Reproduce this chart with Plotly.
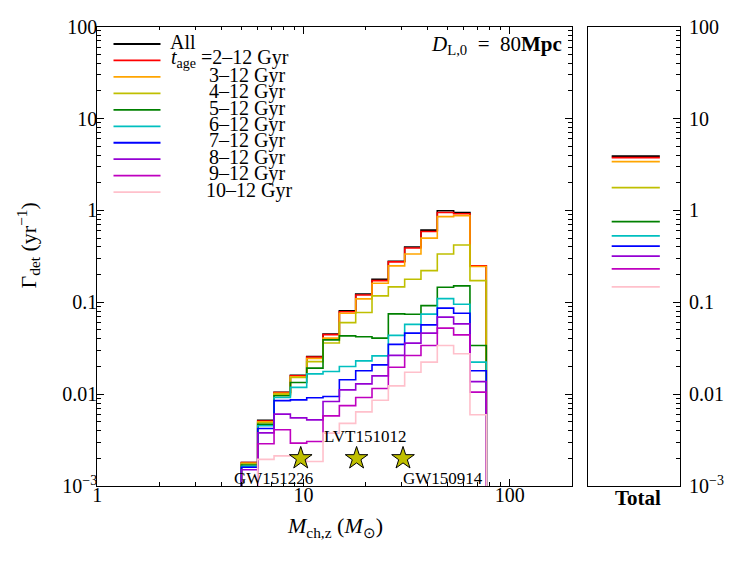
import math
import plotly.graph_objects as go

# ---------------- data ----------------
bin_edges = [5.0, 6.0, 7.2, 8.64, 10.37, 12.44, 14.93, 17.92, 21.50,
             25.80, 30.96, 37.15, 44.58, 53.50, 64.20, 77.04]

series_labels = ["All", "2–12 Gyr", "3–12 Gyr", "4–12 Gyr", "5–12 Gyr",
                 "6–12 Gyr", "7–12 Gyr", "8–12 Gyr", "9–12 Gyr", "10–12 Gyr"]

rate_all   = [0.0018, 0.0052, 0.0105, 0.0160, 0.0256, 0.0450, 0.0810, 0.1230,
              0.1780, 0.2800, 0.4000, 0.6100, 0.9900, 0.9500, 0.2500]
rate_2_12  = [0.0018, 0.0051, 0.0104, 0.0158, 0.0254, 0.0445, 0.0790, 0.1200,
              0.1720, 0.2750, 0.3900, 0.5900, 0.9500, 0.9200, 0.2500]
rate_3_12  = [0.00177, 0.0050, 0.0102, 0.0154, 0.0244, 0.0407, 0.0761, 0.1089,
              0.1614, 0.2490, 0.3360, 0.4990, 0.8570, 0.8780, 0.2450]
rate_4_12  = [0.00175, 0.00488, 0.0100, 0.0152, 0.0226, 0.0361, 0.0601, 0.0773,
              0.1175, 0.1470, 0.1780, 0.2210, 0.3360, 0.4210, 0.1720]
rate_5_12  = [0.00169, 0.00469, 0.0096, 0.01337, 0.0192, 0.0390, 0.0431, 0.0421,
              0.0407, 0.0748, 0.0742, 0.0920, 0.1460, 0.1510, 0.0338]
rate_6_12  = [0.00164, 0.00452, 0.00919, 0.01186, 0.01663, 0.01762, 0.01996, 0.02303,
              0.02612, 0.0436, 0.0575, 0.0743, 0.1097, 0.0953, 0.0223]
rate_7_12  = [0.00160, 0.00422, 0.00851, 0.00867, 0.00912, 0.00942, 0.01432, 0.01794,
              0.02084, 0.0348, 0.0461, 0.0568, 0.0863, 0.0761, 0.01794]
rate_8_12  = [0.00150, 0.00379, 0.00606, 0.00552, 0.00525, 0.00832, 0.01114, 0.01294,
              0.0158, 0.0264, 0.0359, 0.0461, 0.0689, 0.0582, 0.0137]
rate_9_12  = [0.0008, 0.00288, 0.00409, 0.00293, 0.00305, 0.0058, 0.0075, 0.0092,
              0.0115, 0.0196, 0.0263, 0.0338, 0.0523, 0.0442, 0.01052]
rate_10_12 = [0.0005, 0.00195, 0.00213, 0.00213, 0.00185, 0.00376, 0.00481, 0.00641,
              0.00857, 0.0123, 0.01734, 0.0223, 0.0338, 0.0275, 0.00596]

series_rates = [rate_all, rate_2_12, rate_3_12, rate_4_12, rate_5_12,
                rate_6_12, rate_7_12, rate_8_12, rate_9_12, rate_10_12]

totals = [3.89, 3.76, 3.40, 1.77, 0.755, 0.528, 0.408, 0.318, 0.231, 0.147]

event_names = ["GW151226", "LVT151012", "GW150914"]
event_mchirp = [9.7, 18.1, 30.4]
event_rate = [0.002, 0.002, 0.002]

y_tickvals = [1e-3, 1e-2, 1e-1, 1, 10, 100]
y_ticktext = ["10<sup>−3</sup>", "0.01", "0.1", "1", "10", "100"]
x_tickvals = [1, 10, 100]
x_ticktext = ["1", "10", "100"]

# ---------------- styles ----------------
colors = ["#000000", "#ff0000", "#ffa500", "#bfbf00", "#008000",
          "#00bfbf", "#0000ff", "#9400d3", "#bf00bf", "#ffc0cb"]
FONT = "Liberation Serif"
W, H = 747, 561
OFF = 8  # page body margin offset
BASE = 1e-7  # histogram baseline (below visible range)


def fx(px):
    return (px - OFF) / W


def fy(py):
    return 1 - (py - OFF) / H


y_minor = [m * 10 ** e for e in range(-3, 2) for m in range(2, 10)]
x_minor = [m * 10 ** e for e in range(0, 2) for m in range(2, 10)] + [200]

fig = go.Figure()

# step histograms
for vals, col, lab in zip(series_rates, colors, series_labels):
    xs = [bin_edges[0]] + bin_edges[:-1] + [bin_edges[-1]]
    ys = [BASE] + vals + [BASE]
    fig.add_trace(go.Scatter(x=xs, y=ys, mode="lines", line_shape="hv",
                             line=dict(color=col, width=1.6), name=lab,
                             showlegend=False, xaxis="x", yaxis="y"))

# detected events
fig.add_trace(go.Scatter(x=event_mchirp, y=event_rate, mode="markers",
                         marker=dict(symbol="star", size=17, color="#bfbf00",
                                     line=dict(color="black", width=1)),
                         showlegend=False, xaxis="x", yaxis="y"))

# totals panel
for tot, col in zip(totals, colors):
    fig.add_trace(go.Scatter(x=[0.255, 0.78], y=[tot, tot], mode="lines",
                             line=dict(color=col, width=1.8),
                             showlegend=False, xaxis="x2", yaxis="y2"))

annotations = []
shapes = []

# event labels
ev_offsets = [(-27, -20), (9, 22), (40, -20)]
for name, mc, rt, (dx, dy) in zip(event_names, event_mchirp, event_rate, ev_offsets):
    annotations.append(dict(x=math.log10(mc), y=math.log10(rt), xref="x", yref="y",
                            text=name, showarrow=False, xshift=dx, yshift=dy,
                            font=dict(family=FONT, size=17, color="black")))

# manual legend
leg_y0, leg_dy = 44.0, 16.46
text_x = [168, 169, 207, 207, 207, 207, 207, 207, 207, 204]
for i, (lab, col) in enumerate(zip(series_labels, colors)):
    ly = leg_y0 + i * leg_dy
    shapes.append(dict(type="line", xref="paper", yref="paper",
                       x0=fx(113.5), x1=fx(160.5), y0=fy(ly), y1=fy(ly),
                       line=dict(color=col, width=1.8)))
    if i == 0:
        txt = "All"
    elif i == 1:
        txt = "<i>t</i><sub>age</sub> =" + lab
    else:
        txt = lab
    annotations.append(dict(x=fx(text_x[i]), y=fy(ly - 1.8), xref="paper", yref="paper",
                            text=txt, showarrow=False, xanchor="left", yanchor="middle",
                            font=dict(family=FONT, size=20, color="black")))

# distance label
annotations.append(dict(x=fx(564), y=fy(45), xref="paper", yref="paper",
                        text="<i>D</i><sub>L,0</sub>\u00a0\u00a0=\u00a0\u00a080<b>Mpc</b>",
                        showarrow=False, xanchor="right", yanchor="middle",
                        font=dict(family=FONT, size=21, color="black")))

# axis titles
annotations.append(dict(x=fx(28), y=fy(245.5), xref="paper", yref="paper",
                        text="Γ<sub>det</sub> (yr<sup>−1</sup>)", showarrow=False,
                        textangle=-90, xanchor="center", yanchor="middle",
                        font=dict(family=FONT, size=22, color="black")))
annotations.append(dict(x=fx(334.5), y=fy(527), xref="paper", yref="paper",
                        text="<i>M</i><sub>ch,z</sub> (<i>M</i><sub>⊙</sub>)", showarrow=False,
                        xanchor="center", yanchor="middle",
                        font=dict(family=FONT, size=22, color="black")))
annotations.append(dict(x=fx(638), y=fy(498), xref="paper", yref="paper",
                        text="<b>Total</b>", showarrow=False,
                        xanchor="center", yanchor="middle",
                        font=dict(family=FONT, size=21, color="black")))

tickfont = dict(family=FONT, size=20, color="black")
ydom = [fy(486.0), fy(26.7)]

fig.update_layout(
    width=W, height=H, autosize=False,
    margin=dict(l=0, r=0, t=0, b=0),
    paper_bgcolor="white", plot_bgcolor="white",
    showlegend=False,
    xaxis=dict(type="log", range=[0, math.log10(200)], domain=[fx(97.3), fx(571.7)],
               anchor="y", tickvals=x_tickvals, ticktext=x_ticktext,
               ticks="inside", ticklen=7, tickwidth=1, tickcolor="black",
               ticklabelstandoff=-9,
               minor=dict(tickvals=x_minor, ticks="inside", ticklen=3.5,
                          tickcolor="black", showgrid=False),
               showline=True, linecolor="black", linewidth=1.2, mirror="ticks",
               showgrid=False, zeroline=False, tickfont=tickfont, automargin=False),
    yaxis=dict(type="log", range=[-3, 2], domain=ydom, anchor="x",
               tickvals=y_tickvals, ticktext=y_ticktext,
               ticks="inside", ticklen=7, tickwidth=1, tickcolor="black",
               ticklabelstandoff=-5,
               minor=dict(tickvals=y_minor, ticks="inside", ticklen=3.5,
                          tickcolor="black", showgrid=False),
               showline=True, linecolor="black", linewidth=1.2, mirror="ticks",
               showgrid=False, zeroline=False, tickfont=tickfont, automargin=False),
    xaxis2=dict(range=[0, 1], domain=[fx(588.3), fx(680.0)], anchor="y2",
                showticklabels=False, ticks="",
                showline=True, linecolor="black", linewidth=1.2, mirror=True,
                showgrid=False, zeroline=False, automargin=False),
    yaxis2=dict(type="log", range=[-3, 2], domain=ydom, anchor="x2", side="right",
                tickvals=y_tickvals, ticktext=y_ticktext,
                ticks="inside", ticklen=7, tickwidth=1, tickcolor="black",
                ticklabelstandoff=4,
                minor=dict(tickvals=y_minor, ticks="inside", ticklen=3.5,
                           tickcolor="black", showgrid=False),
                showline=True, linecolor="black", linewidth=1.2, mirror=True,
                showgrid=False, zeroline=False, tickfont=tickfont, automargin=False),
    annotations=annotations,
    shapes=shapes,
)

fig.write_html("out.html")
